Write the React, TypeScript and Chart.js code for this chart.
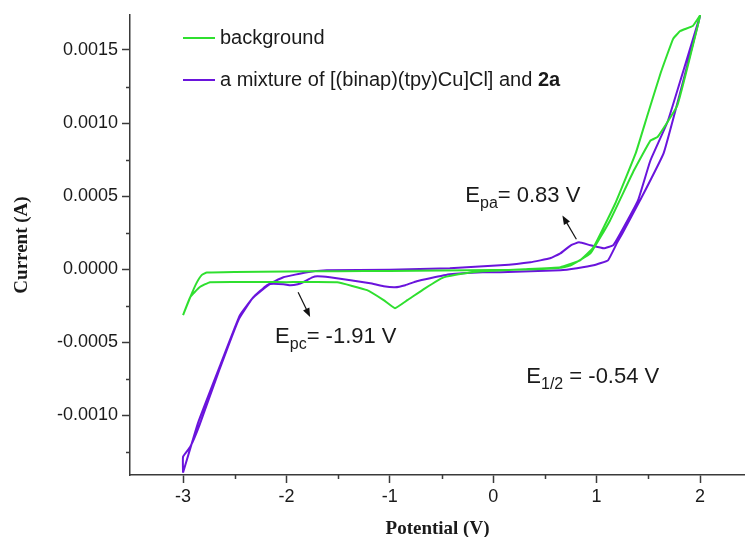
import React, { useEffect, useRef } from "react";
import { Chart, registerables } from "chart.js";

Chart.register(...registerables);

// ---- axis ticks ----
const xTicks = [-3, -2, -1, 0, 1, 2];
const xTickLabels = ["-3", "-2", "-1", "0", "1", "2"];
const xMinorTicks = [-2.5, -1.5, -0.5, 0.5, 1.5];
const yTicks = [-0.001, -0.0005, 0, 0.0005, 0.001, 0.0015];
const yTickLabels = ["-0.0010", "-0.0005", "0.0000", "0.0005", "0.0010", "0.0015"];
const yMinorTicks = [-0.00125, -0.00075, -0.00025, 0.00025, 0.00075, 0.00125];

// ---- series: background (potential V, current A) ----
const backgroundV = [
  -3.0, -2.93, -2.87, -2.82, -2.77, -2.5, -2.0, -1.5, -1.0, -0.5, 0.0, 0.4, 0.65, 0.75, 0.94, 1.13,
  1.36, 1.52, 1.59, 1.78, 2.0, 1.93, 1.81, 1.74, 1.62, 1.49, 1.38, 1.18, 0.97, 0.84, 0.65, 0.3,
  -0.1, -0.27, -0.48, -0.66, -0.83, -0.95, -1.06, -1.22, -1.51, -2.0, -2.74, -2.84, -2.93, -3.0,
];
const backgroundI = [
  -0.000314, -0.00019, -0.000095, -0.00004, -0.000022, -0.000018, -0.000015, -0.000013, -0.000011,
  -0.000009, -0.000005, 0.0, 0.00001, 0.000027, 0.000109, 0.000334, 0.000675, 0.00088, 0.000905,
  0.00112, 0.001735, 0.001664, 0.00163, 0.001576, 0.001344, 0.00105, 0.000798, 0.00045, 0.00015,
  0.000061, 0.000014, 0.0, -0.000014, -0.000027, -0.000055, -0.00013, -0.000211, -0.000266,
  -0.000211, -0.000143, -0.000089, -0.000088, -0.000088, -0.000123, -0.00019, -0.000314,
];

// ---- series: mixture of [(binap)(tpy)Cu]Cl and 2a ----
const mixtureV = [
  -3.0, -2.855, -2.64, -2.45, -2.32, -2.19, -2.03, -1.8, -1.61, -1.0, -0.42, 0.07, 0.36, 0.55, 0.65,
  0.75, 0.83, 0.94, 1.07, 1.16, 1.23, 1.4, 1.52, 1.69, 2.0, 1.65, 1.42, 1.25, 1.2, 1.11, 0.97, 0.81,
  0.65, 0.07, -0.1, -0.42, -0.61, -0.74, -0.85, -0.95, -1.06, -1.19, -1.38, -1.58, -1.7, -1.75,
  -1.84, -1.89, -1.96, -2.03, -2.16, -2.33, -2.46, -2.65, -2.84, -2.93, -3.0, -3.0,
];
const mixtureI = [
  -0.001391, -0.00105, -0.000655, -0.000314, -0.000191, -0.000109, -0.000055, -0.00002, -0.000007,
  -0.000003, 0.000007, 0.000027, 0.000048, 0.000075, 0.000109, 0.000164, 0.000184, 0.000164,
  0.000143, 0.000164, 0.000246, 0.000471, 0.000744, 0.001016, 0.001733, 0.000798, 0.000471,
  0.000246, 0.000184, 0.000061, 0.000027, 0.000007, -0.000007, -0.00002, -0.00002, -0.000034,
  -0.000061, -0.000082, -0.000109, -0.000123, -0.000116, -0.000096, -0.000075, -0.000055,
  -0.000048, -0.000055, -0.000089, -0.000102, -0.000109, -0.000102, -0.000102, -0.0002, -0.00034,
  -0.00069, -0.001064, -0.001214, -0.001282, -0.001391,
];

const seriesLabels = ["background", "a mixture of [(binap)(tpy)Cu]Cl] and 2a"];
const legendParts = [
  [{ t: "background", bold: false }],
  [
    { t: "a mixture of [(binap)(tpy)Cu]Cl] and ", bold: false },
    { t: "2a", bold: true },
  ],
];

const GREEN = "#2fdf2f";
const PURPLE = "#6a14dc";
const AXIS = "#3a3a3a";
const TEXT = "#1a1a1a";
const SANS = '"Liberation Sans", Arial, sans-serif';
const SERIF = '"Liberation Serif", "Times New Roman", serif';

type Part = { t: string; sub?: boolean; bold?: boolean };
const annotations: { x: number; y: number; parts: Part[] }[] = [
  { x: -0.27, y: 0.000457, parts: [{ t: "E" }, { t: "pa", sub: true }, { t: "= 0.83 V" }] },
  { x: -2.11, y: -0.000505, parts: [{ t: "E" }, { t: "pc", sub: true }, { t: "= -1.91 V" }] },
  { x: 0.32, y: -0.000778, parts: [{ t: "E" }, { t: "1/2", sub: true }, { t: " = -0.54 V" }] },
];
const arrows = [
  { from: [0.804, 0.000205], to: [0.669, 0.000368] },
  { from: [-1.887, -0.000157], to: [-1.771, -0.000327] },
];

const zip = (xs: number[], ys: number[]) => xs.map((x, i) => ({ x, y: ys[i] }));

const minorTicksPlugin = {
  id: "minorTicks",
  afterDraw(chart: any) {
    const { ctx } = chart;
    const xs = chart.scales.x;
    const ys = chart.scales.y;
    ctx.save();
    ctx.strokeStyle = AXIS;
    ctx.lineWidth = 1.5;
    ctx.beginPath();
    xMinorTicks.forEach((v) => {
      const px = Math.round(xs.getPixelForValue(v)) + 0.5;
      ctx.moveTo(px, xs.top);
      ctx.lineTo(px, xs.top + 4);
    });
    yMinorTicks.forEach((v) => {
      const py = Math.round(ys.getPixelForValue(v)) + 0.5;
      ctx.moveTo(ys.right, py);
      ctx.lineTo(ys.right - 4, py);
    });
    ctx.stroke();
    ctx.restore();
  },
};

const legendPlugin = {
  id: "insideLegend",
  afterDraw(chart: any) {
    const { ctx, chartArea } = chart;
    ctx.save();
    chart.data.datasets.forEach((ds: any, i: number) => {
      const y = chartArea.top + 23 + i * 42;
      const x0 = chartArea.left + 53;
      ctx.strokeStyle = ds.borderColor;
      ctx.lineWidth = 2;
      ctx.beginPath();
      ctx.moveTo(x0, y);
      ctx.lineTo(x0 + 32, y);
      ctx.stroke();
      let x = x0 + 37;
      ctx.fillStyle = TEXT;
      ctx.textBaseline = "middle";
      ctx.textAlign = "left";
      legendParts[i].forEach((p) => {
        ctx.font = `${p.bold ? "bold " : ""}20px ${SANS}`;
        ctx.fillText(p.t, x, y);
        x += ctx.measureText(p.t).width;
      });
    });
    ctx.restore();
  },
};

const annotationPlugin = {
  id: "cvAnnotations",
  afterDraw(chart: any) {
    const { ctx } = chart;
    const xs = chart.scales.x;
    const ys = chart.scales.y;
    ctx.save();
    ctx.fillStyle = TEXT;
    ctx.textBaseline = "alphabetic";
    ctx.textAlign = "left";
    annotations.forEach((a) => {
      let x = xs.getPixelForValue(a.x);
      const y = ys.getPixelForValue(a.y);
      a.parts.forEach((p) => {
        ctx.font = `${p.sub ? 16 : 22}px ${SANS}`;
        ctx.fillText(p.t, x, p.sub ? y + 6 : y);
        x += ctx.measureText(p.t).width;
      });
    });
    ctx.strokeStyle = "#111";
    ctx.fillStyle = "#111";
    ctx.lineWidth = 1.2;
    arrows.forEach((ar) => {
      const x1 = xs.getPixelForValue(ar.from[0]);
      const y1 = ys.getPixelForValue(ar.from[1]);
      const x2 = xs.getPixelForValue(ar.to[0]);
      const y2 = ys.getPixelForValue(ar.to[1]);
      const ang = Math.atan2(y2 - y1, x2 - x1);
      const hl = 9;
      const hw = 3.5;
      ctx.beginPath();
      ctx.moveTo(x1, y1);
      ctx.lineTo(x2 - Math.cos(ang) * hl * 0.8, y2 - Math.sin(ang) * hl * 0.8);
      ctx.stroke();
      ctx.beginPath();
      ctx.moveTo(x2, y2);
      ctx.lineTo(
        x2 - Math.cos(ang) * hl + Math.sin(ang) * hw,
        y2 - Math.sin(ang) * hl - Math.cos(ang) * hw
      );
      ctx.lineTo(
        x2 - Math.cos(ang) * hl - Math.sin(ang) * hw,
        y2 - Math.sin(ang) * hl + Math.cos(ang) * hw
      );
      ctx.closePath();
      ctx.fill();
    });
    ctx.restore();
  },
};

export default function App() {
  const ref = useRef<HTMLCanvasElement>(null);
  useEffect(() => {
    const canvas = ref.current;
    if (!canvas) return;
    const chart = new Chart(canvas, {
      type: "scatter",
      data: {
        datasets: [
          {
            label: seriesLabels[0],
            data: zip(backgroundV, backgroundI),
            borderColor: GREEN,
            backgroundColor: GREEN,
            showLine: true,
            pointRadius: 0,
            borderWidth: 2,
            tension: 0.1,
          },
          {
            label: seriesLabels[1],
            data: zip(mixtureV, mixtureI),
            borderColor: PURPLE,
            backgroundColor: PURPLE,
            showLine: true,
            pointRadius: 0,
            borderWidth: 2,
            tension: 0.1,
          },
        ],
      },
      options: {
        responsive: false,
        animation: false,
        devicePixelRatio: 1,
        layout: { padding: { top: 15, right: 0, left: 0, bottom: 0 } },
        plugins: { legend: { display: false }, tooltip: { enabled: false } },
        scales: {
          x: {
            type: "linear",
            min: -3.513,
            max: 2.435,
            afterBuildTicks: (s: any) => {
              s.ticks = xTicks.map((v) => ({ value: v }));
            },
            afterFit: (s: any) => {
              s.height = 62;
            },
            grid: {
              drawOnChartArea: false,
              drawTicks: true,
              tickLength: 8,
              tickColor: AXIS,
              tickWidth: 1.5,
            },
            border: { color: AXIS, width: 1.5 },
            ticks: {
              font: { family: SANS, size: 18 },
              color: TEXT,
              padding: 3,
              maxRotation: 0,
              callback: (_v: any, i: number) => xTickLabels[i],
            },
            title: {
              display: true,
              text: "Potential (V)",
              font: { family: SERIF, size: 19, weight: "bold" },
              color: TEXT,
              padding: { top: 0, bottom: -3 },
            },
          },
          y: {
            type: "linear",
            min: -0.001407,
            max: 0.001739,
            afterBuildTicks: (s: any) => {
              s.ticks = yTicks.map((v) => ({ value: v }));
            },
            afterFit: (s: any) => {
              s.width = 130;
            },
            grid: {
              drawOnChartArea: false,
              drawTicks: true,
              tickLength: 8,
              tickColor: AXIS,
              tickWidth: 1.5,
            },
            border: { color: AXIS, width: 1.5 },
            ticks: {
              font: { family: SANS, size: 18 },
              color: TEXT,
              padding: 4,
              callback: (_v: any, i: number) => yTickLabels[i],
            },
            title: {
              display: true,
              text: "Current (A)",
              font: { family: SERIF, size: 19, weight: "bold" },
              color: TEXT,
              padding: { top: 11, bottom: 0 },
            },
          },
        },
      } as any,
      plugins: [minorTicksPlugin, legendPlugin, annotationPlugin],
    });
    return () => chart.destroy();
  }, []);
  return (
    <div style={{ position: "absolute", left: 0, top: 0, width: 745, height: 537, background: "#fff" }}>
      <canvas ref={ref} width={745} height={537} style={{ display: "block" }} />
    </div>
  );
}
